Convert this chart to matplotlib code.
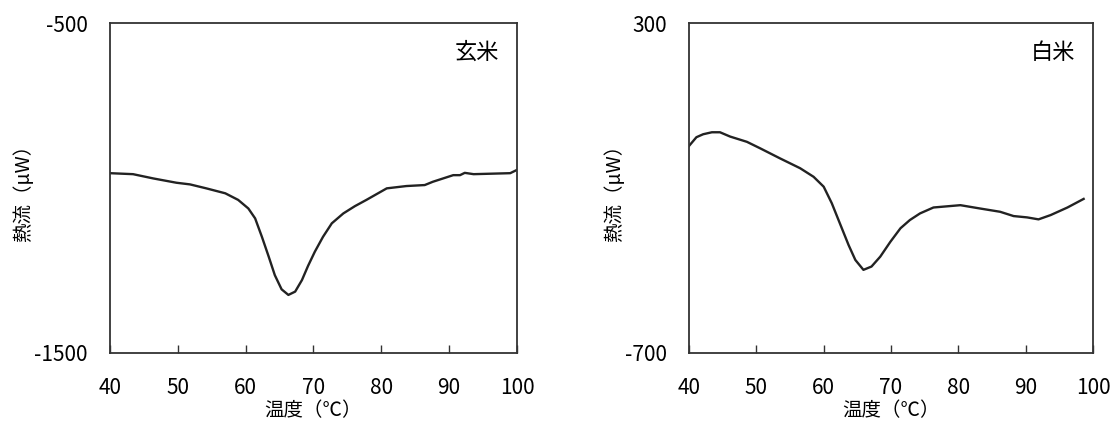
import matplotlib.pyplot as plt

plt.rcParams['font.family'] = ['Noto Sans CJK JP', 'DejaVu Sans']

# 玄米 (brown rice) DSC curve
genmai_t = [40.0, 43.4, 46.4, 49.8, 51.8, 54.2, 57.0, 58.9, 60.4, 61.4, 62.4, 63.4,
            64.3, 65.3, 66.3, 67.3, 68.3, 69.2, 70.2, 71.4, 72.7, 74.4, 76.1, 77.8,
            80.8, 83.7, 86.4, 87.6, 90.6, 91.6, 92.3, 93.6, 99.0, 100.0]
genmai_q = [-955, -958, -971, -984, -989, -1001, -1016, -1036, -1062, -1092, -1148, -1208,
            -1264, -1307, -1324, -1314, -1279, -1236, -1193, -1148, -1107, -1077, -1055, -1036,
            -1001, -994, -991, -981, -961, -961, -954, -958, -955, -945]

# 白米 (white rice) DSC curve
hakumai_t = [39.9, 41.1, 42.1, 43.4, 44.6, 46.1, 48.6, 50.6, 53.5, 56.5, 58.5, 60.0,
             61.2, 62.4, 63.7, 64.7, 65.9, 67.1, 68.4, 69.9, 71.4, 72.8, 74.3, 76.3,
             80.3, 83.2, 86.2, 88.2, 90.2, 91.9, 93.7, 96.2, 98.6]
hakumai_q = [-75, -46, -37, -31, -31, -44, -60, -80, -110, -140, -166, -196,
             -246, -307, -373, -418, -448, -438, -408, -363, -322, -297, -277, -259,
             -252, -262, -272, -285, -289, -295, -282, -259, -233]

x_ticks = [40, 50, 60, 70, 80, 90, 100]

panels = [
    (genmai_t, genmai_q, (-1500, -500), '玄米', [0.0987, 0.1655, 0.3654, 0.780]),
    (hakumai_t, hakumai_q, (-700, 300), '白米', [0.6185, 0.1655, 0.3627, 0.780]),
]

fig = plt.figure(figsize=(11.14, 4.23), dpi=100)

for t, q, ylim, name, rect in panels:
    ax = fig.add_axes(rect)
    ax.plot(t, q, color='#222222', lw=1.7, solid_joinstyle='round')
    ax.set_xlim(40, 100)
    ax.set_ylim(*ylim)
    ax.set_xticks(x_ticks)
    ax.set_yticks(list(ylim))
    ax.set_yticklabels([str(v) for v in ylim])
    ax.tick_params(axis='x', direction='in', length=6, width=1, color='#333333',
                   labelsize=15, pad=17)
    ax.tick_params(axis='y', length=0, labelsize=15, pad=16)
    for s in ax.spines.values():
        s.set_color('#333333')
        s.set_linewidth(1.3)
    ax.set_xlabel('温度（℃）', fontsize=14, labelpad=1)
    ax.set_ylabel('熱流（μW）', fontsize=14, labelpad=0)
    ax.text(0.955, 0.91, name, transform=ax.transAxes, ha='right', va='center',
            fontsize=16)

fig.savefig('out.png', dpi=100)
